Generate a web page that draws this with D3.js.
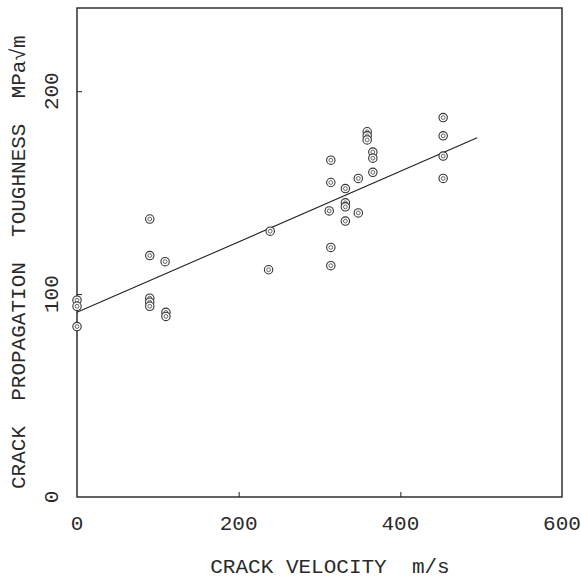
<!DOCTYPE html>
<html>
<head>
<meta charset="utf-8">
<script src="https://cdn.jsdelivr.net/npm/d3@7"></script>
<style>
  body { margin: 0; background: #fff; }
  text { font-family: "Liberation Mono", "DejaVu Sans Mono", monospace; fill: #2a2a2a; white-space: pre; }
</style>
</head>
<body>
<div id="chart"></div>
<script>
// crack velocity (m/s) and toughness (MPa√m)
const velocity = [0, 0, 0, 90, 90, 90, 90, 90, 109, 110, 110, 237, 239,
    312, 314, 314, 314, 314, 332, 332, 332, 332, 348, 348,
    359, 359, 359, 366, 366, 366, 453, 453, 453, 453];
const toughness = [97, 94, 84, 137, 119, 98, 96, 94, 116, 91, 89, 112, 131,
    141, 166, 155, 123, 114, 152, 145, 143, 136, 157, 140,
    180, 178, 176, 170, 167, 160, 187, 178, 168, 157];
const fitVelocity = [0, 495];
const fitToughness = [91, 177];
const xTicks = [0, 200, 400, 600];
const yTicks = [0, 100, 200];

const W = 581, H = 581;
const margin = { left: 77, right: 19, top: 8, bottom: 84 };
const yMax = 241;
const svg = d3.select("#chart").append("svg")
    .attr("width", W)
    .attr("height", H);

const x = d3.scaleLinear().domain([0, 600]).range([margin.left, W - margin.right]);
const y = d3.scaleLinear().domain([0, yMax]).range([H - margin.bottom, margin.top]);

// frame
svg.append("rect")
    .attr("x", x(0)).attr("y", y(yMax))
    .attr("width", x(600) - x(0)).attr("height", y(0) - y(yMax))
    .attr("fill", "none").attr("stroke", "#222").attr("stroke-width", 1.4);

// inward ticks
svg.append("g")
    .attr("transform", "translate(0," + y(0) + ")")
    .call(d3.axisTop(x).tickValues([200, 400]).tickSize(5).tickFormat(""))
    .call(g => g.select(".domain").remove())
    .selectAll("line").attr("stroke", "#222");
svg.append("g")
    .attr("transform", "translate(" + x(0) + ",0)")
    .call(d3.axisRight(y).tickValues([100, 200]).tickSize(5).tickFormat(""))
    .call(g => g.select(".domain").remove())
    .selectAll("line").attr("stroke", "#222");

// tick labels
svg.selectAll("text.xt").data(xTicks).join("text")
    .attr("class", "xt")
    .attr("x", d => x(d)).attr("y", 530)
    .attr("text-anchor", "middle")
    .style("font-size", "21px")
    .text(d => d);
svg.selectAll("text.yt").data(yTicks).join("text")
    .attr("class", "yt")
    .attr("transform", d => "translate(58," + y(d) + ") rotate(-90)")
    .attr("text-anchor", "middle")
    .style("font-size", "21px")
    .text(d => d);

// axis titles
svg.append("text")
    .attr("x", 330).attr("y", 573)
    .attr("text-anchor", "middle")
    .style("font-size", "21px")
    .text("CRACK VELOCITY  m/s");
svg.append("text")
    .attr("transform", "translate(25,489) rotate(-90)")
    .attr("text-anchor", "start")
    .style("font-size", "21px")
    .text("CRACK  PROPAGATION  TOUGHNESS  MPa√m");

// regression line
const pts = velocity.map((v, i) => ({ v: v, t: toughness[i] }));
const fit = fitVelocity.map((v, i) => ({ v: v, t: fitToughness[i] }));
svg.append("path")
    .datum(fit)
    .attr("d", d3.line().x(d => x(d.v)).y(d => y(d.t)))
    .attr("fill", "none").attr("stroke", "#222").attr("stroke-width", 1.1);

// markers
const mk = svg.append("g").selectAll("g").data(pts).join("g")
    .attr("transform", d => "translate(" + x(d.v) + "," + y(d.t) + ")");
mk.append("circle").attr("r", 4.2)
    .attr("fill", "#fff").attr("stroke", "#333").attr("stroke-width", 1.1);
mk.append("circle").attr("r", 1.9)
    .attr("fill", "none").attr("stroke", "#555").attr("stroke-width", 0.9);
</script>
</body>
</html>
